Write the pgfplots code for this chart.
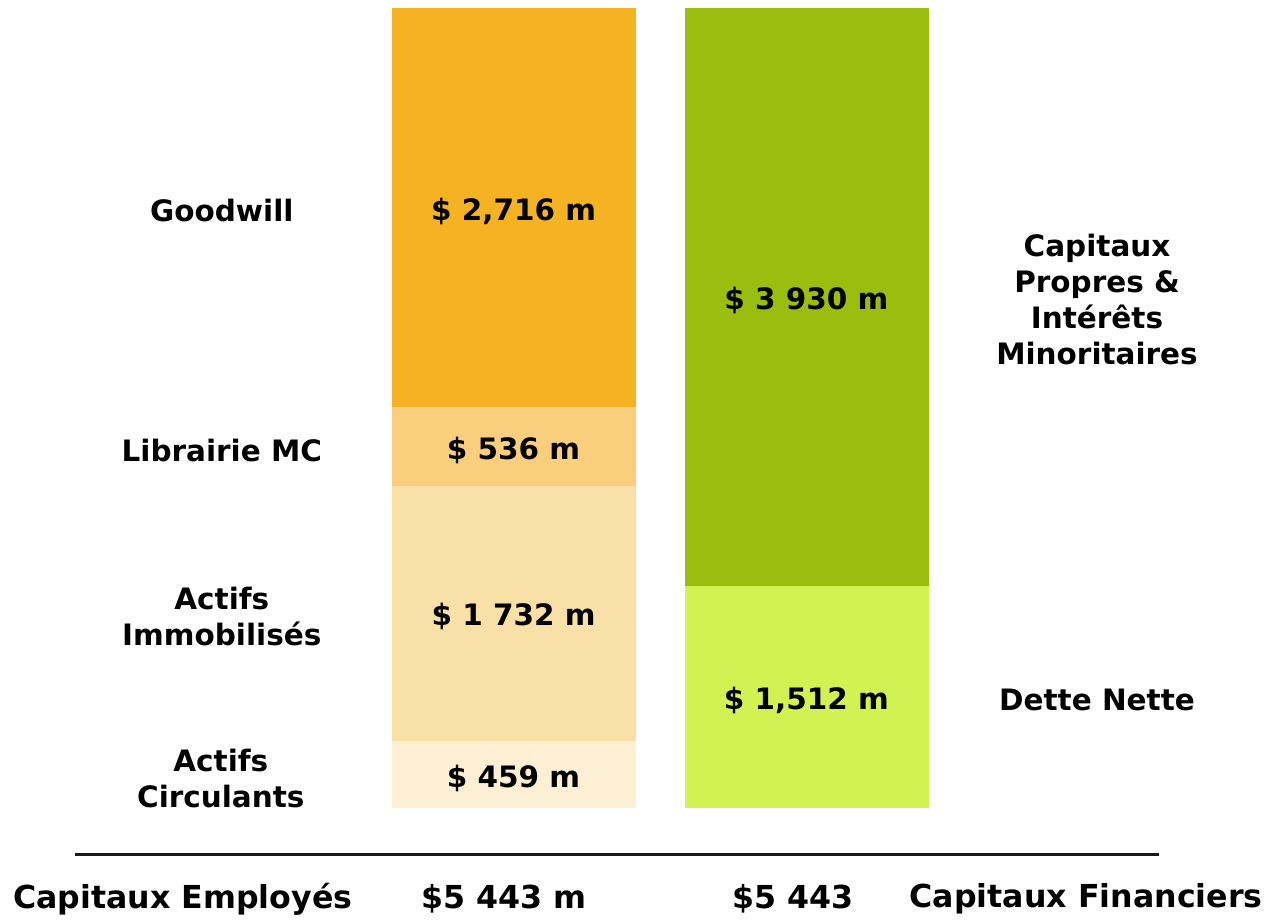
\documentclass[border=0pt]{standalone}
\usepackage{pgfplots}
\pgfplotsset{compat=1.18}
\usepackage{fontspec}
\setmainfont{DejaVu Sans}
\definecolor{cGood}{HTML}{F5B223}
\definecolor{cLib}{HTML}{F9CF7E}
\definecolor{cImmo}{HTML}{F9E0A6}
\definecolor{cCirc}{HTML}{FDEFD3}
\definecolor{cEq}{HTML}{9ABD0F}
\definecolor{cDebt}{HTML}{D2F254}
\definecolor{cLine}{HTML}{1A1A1A}
\newcommand\lab{\bfseries\fontsize{17.7}{21.6}\selectfont}
\newcommand\botfont{\bfseries\fontsize{19}{22}\selectfont}
\begin{document}
\begin{tikzpicture}
\begin{axis}[at={(235.5pt,-485.4pt)}, anchor=south west, scale only axis,
  width=322.2pt, height=480.6pt, xmin=-0.4164, xmax=1.4164, ymin=0, ymax=5443,
  hide axis, ybar stacked, bar width=0.8328, clip=false]
\addplot[fill=cCirc, draw=none] coordinates {(0,459) (1,0)};
\addplot[fill=cDebt, draw=none] coordinates {(0,0) (1,1512)};
\addplot[fill=cImmo, draw=none] coordinates {(0,1732) (1,0)};
\addplot[fill=cEq, draw=none] coordinates {(0,0) (1,3930)};
\addplot[fill=cLib, draw=none] coordinates {(0,536) (1,0)};
\addplot[fill=cGood, draw=none] coordinates {(0,2716) (1,0)};
\end{axis}
\begin{scope}[x=0.6pt,y=-0.6pt]
\path (0,0) rectangle (1268,917);
\node[font=\lab] at (514,212) {\$ 2,716 m};
\node[font=\lab] at (514,451) {\$ 536 m};
\node[font=\lab] at (514,617) {\$ 1 732 m};
\node[font=\lab] at (514,779) {\$ 459 m};
\node[font=\lab] at (807,301) {\$ 3 930 m};
\node[font=\lab] at (807,701) {\$ 1,512 m};
\node[font=\lab] at (222,211) {Goodwill};
\node[font=\lab] at (222,451) {Librairie MC};
\node[font=\lab, align=center] at (222,617) {Actifs\\Immobilisés};
\node[font=\lab, align=center] at (221,779) {Actifs\\Circulants};
\node[font=\lab, align=center] at (1098,300) {Capitaux\\Propres \&\\Intérêts\\Minoritaires};
\node[font=\lab] at (1098,701) {Dette Nette};
\draw[cLine, line width=1.8pt] (75,855) -- (1160,855);
\node[font=\botfont] at (183,900) {Capitaux Employés};
\node[font=\botfont] at (504,900) {\$5 443 m};
\node[font=\botfont] at (794,900) {\$5 443};
\node[font=\botfont] at (1087,900) {Capitaux Financiers};
\end{scope}
\end{tikzpicture}
\end{document}
